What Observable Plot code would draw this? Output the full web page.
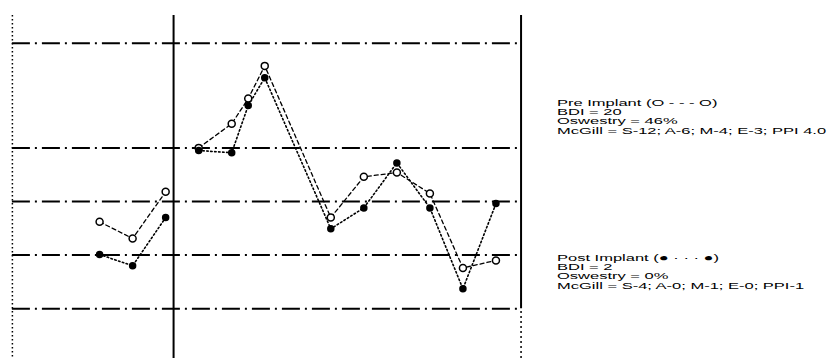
<!DOCTYPE html>
<html>
<head>
<meta charset="utf-8">
<script src="https://cdn.jsdelivr.net/npm/d3@7"></script>
<script src="https://cdn.jsdelivr.net/npm/@observablehq/plot@0.6"></script>
<style>
  html, body { margin: 0; padding: 0; background: #fff; }
  #wrap { position: relative; width: 837px; height: 358px; overflow: hidden; font-family: "Liberation Sans", Arial, sans-serif; }
  #chart { position: absolute; left: 0; top: 0; }
  .note { position: absolute; left: 557px; font-size: 16.5px; line-height: 15.5px; color: #000;
          transform: scaleY(0.6); transform-origin: 0 0; white-space: nowrap; }
</style>
</head>
<body>
<div id="wrap">
  <div id="chart"></div>
  <div class="note" id="pre" style="top:98px"></div>
  <div class="note" id="post" style="top:253px"></div>
</div>
<script>
// Column positions (x) and levels (y, in gridline units)
const preX  = [-3, -2, -1, 0, 1, 1.5, 2, 4, 5, 6, 7, 8, 9];
const preY  = [1.62, 1.31, 2.18, 3.00, 3.45, 3.92, 4.53, 1.70, 2.46, 2.54, 2.15, 0.76, 0.90];
const postX = [-3, -2, -1, 0, 1, 1.5, 2, 4, 5, 6, 7, 8, 9];
const postY = [1.01, 0.80, 1.70, 2.95, 2.91, 3.79, 4.31, 1.49, 1.88, 2.72, 1.88, 0.37, 1.96];

const gridLevels = [0, 1, 2, 3, 4.95];
const chartLeft = -5.64;
const divider = -0.76;
const chartRight = 9.76;

const preLines = [
  "Pre Implant (O - - - O)",
  "BDI = 20",
  "Oswestry = 46%",
  "McGill = S-12; A-6; M-4; E-3; PPI 4.0"
];
const postLines = [
  "Post Implant (\u25CF \u00B7 \u00B7 \u00B7 \u25CF)",
  "BDI = 2",
  "Oswestry = 0%",
  "McGill = S-4; A-0; M-1; E-0; PPI-1"
];

const pre = preX.map((x, i) => ({x, y: preY[i], panel: x < divider ? "L" : "R"}));
const post = postX.map((x, i) => ({x, y: postY[i], panel: x < divider ? "L" : "R"}));

const chart = Plot.plot({
  width: 545,
  height: 358,
  marginTop: 15,
  marginBottom: 0,
  marginLeft: 0,
  marginRight: 0,
  style: {background: "#fff"},
  x: {domain: [-6, 10.5], axis: null},
  y: {domain: [-0.93, 5.47], axis: null},
  marks: [
    Plot.ruleY(gridLevels, {x1: chartLeft, x2: chartRight, stroke: "#000", strokeWidth: 2, strokeDasharray: "18,5,2,5"}),
    Plot.ruleX([chartLeft], {stroke: "#000", strokeWidth: 1.5, strokeDasharray: "1.5,2.5"}),
    Plot.ruleX([divider], {stroke: "#000", strokeWidth: 2}),
    Plot.ruleX([chartRight], {y1: 0, y2: 5.47, stroke: "#000", strokeWidth: 2}),
    Plot.ruleX([chartRight], {y1: -0.93, y2: 0, stroke: "#000", strokeWidth: 1.5, strokeDasharray: "2,3"}),
    Plot.line(pre, {x: "x", y: "y", z: "panel", stroke: "#000", strokeWidth: 1.3, strokeDasharray: "4,3"}),
    Plot.line(post, {x: "x", y: "y", z: "panel", stroke: "#000", strokeWidth: 1.6, strokeDasharray: "1.5,2.5"}),
    Plot.dot(pre, {x: "x", y: "y", r: 3.5, fill: "#fff", stroke: "#000", strokeWidth: 1.5}),
    Plot.dot(post, {x: "x", y: "y", r: 3, fill: "#000", stroke: "#000"})
  ]
});
document.getElementById("chart").appendChild(chart);

for (const [id, lines] of [["pre", preLines], ["post", postLines]]) {
  const el = document.getElementById(id);
  for (const t of lines) {
    const d = document.createElement("div");
    d.textContent = t;
    el.appendChild(d);
  }
}
</script>
</body>
</html>
